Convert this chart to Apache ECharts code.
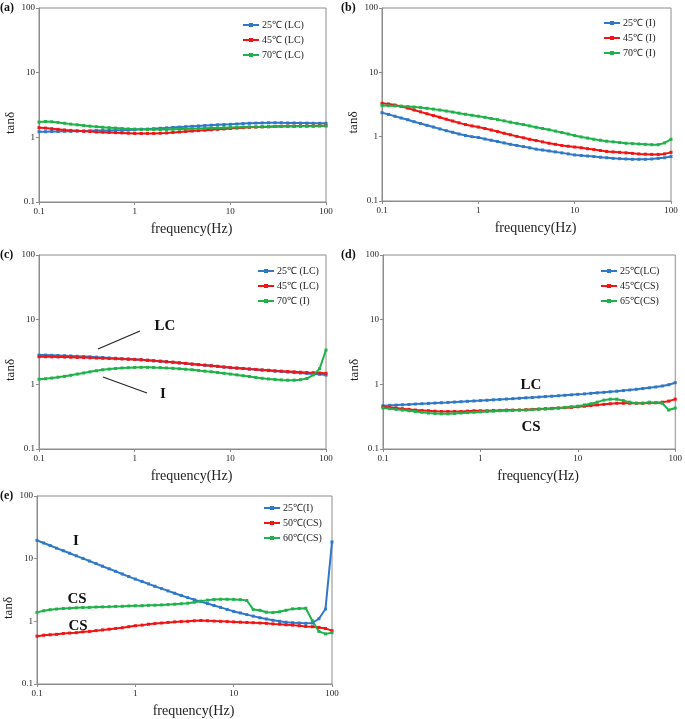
<!DOCTYPE html>
<html><head><meta charset="utf-8">
<script src="https://cdn.jsdelivr.net/npm/echarts@6/dist/echarts.min.js"></script>
<style>html,body{margin:0;padding:0;background:#fff}#c{width:685px;height:719px}</style>
</head><body><div id="c"></div>
<script>
const freq = [0.1,0.117,0.136,0.158,0.185,0.215,0.251,0.293,0.341,0.398,0.464,0.541,0.631,0.736,0.858,
1,1.17,1.36,1.58,1.85,2.15,2.51,2.93,3.41,3.98,4.64,5.41,6.31,7.36,8.58,
10,11.7,13.6,15.8,18.5,21.5,25.1,29.3,34.1,39.8,46.4,54.1,63.1,73.6,85.8,100];
const xTicks = ['0.1','1','10','100'];
const yTicks = ['0.1','1','10','100'];

// (a)
const a25LC = [1.22,1.22,1.23,1.23,1.24,1.24,1.25,1.25,1.26,1.27,1.27,1.28,1.29,1.29,1.30,
1.31,1.33,1.34,1.36,1.38,1.40,1.42,1.44,1.46,1.48,1.50,1.52,1.54,1.56,1.58,
1.59,1.61,1.63,1.65,1.66,1.67,1.68,1.68,1.68,1.67,1.67,1.66,1.66,1.65,1.65,1.65];
const a45LC = [1.41,1.39,1.36,1.33,1.30,1.28,1.26,1.24,1.23,1.21,1.20,1.19,1.18,1.17,1.16,
1.15,1.15,1.15,1.15,1.16,1.17,1.19,1.21,1.23,1.25,1.27,1.29,1.31,1.33,1.35,
1.37,1.39,1.41,1.43,1.44,1.45,1.46,1.47,1.48,1.49,1.49,1.50,1.50,1.50,1.51,1.51];
const a70LC = [1.72,1.76,1.74,1.70,1.65,1.60,1.56,1.52,1.49,1.46,1.43,1.41,1.39,1.37,1.35,
1.34,1.33,1.32,1.32,1.32,1.32,1.33,1.34,1.35,1.36,1.37,1.38,1.39,1.40,1.41,
1.42,1.43,1.44,1.45,1.45,1.46,1.46,1.47,1.47,1.48,1.48,1.48,1.49,1.49,1.50,1.50];
// (b)
const b25I = [2.36,2.22,2.08,1.95,1.83,1.71,1.60,1.50,1.41,1.32,1.24,1.17,1.10,1.04,1.00,
0.97,0.92,0.88,0.84,0.80,0.76,0.73,0.70,0.67,0.64,0.62,0.60,0.58,0.56,0.54,
0.52,0.51,0.50,0.49,0.48,0.47,0.46,0.455,0.45,0.445,0.445,0.445,0.45,0.46,0.47,0.49];
const b45I = [3.30,3.22,3.10,2.95,2.78,2.60,2.43,2.27,2.13,2.00,1.87,1.75,1.64,1.54,1.47,
1.41,1.34,1.27,1.20,1.13,1.07,1.01,0.96,0.91,0.87,0.83,0.79,0.76,0.73,0.71,
0.69,0.67,0.65,0.63,0.61,0.59,0.58,0.57,0.56,0.55,0.54,0.535,0.53,0.53,0.54,0.57];
const b70I = [3.05,3.03,3.01,2.98,2.94,2.89,2.83,2.76,2.68,2.59,2.50,2.41,2.32,2.23,2.15,
2.08,2.00,1.92,1.84,1.76,1.68,1.61,1.54,1.47,1.40,1.34,1.28,1.22,1.16,1.10,
1.04,0.99,0.95,0.91,0.88,0.85,0.83,0.81,0.79,0.78,0.77,0.76,0.75,0.75,0.80,0.91];
// (c)
const c25LC = [2.84,2.83,2.81,2.79,2.77,2.75,2.72,2.69,2.66,2.63,2.60,2.56,2.53,2.49,2.46,
2.43,2.39,2.35,2.31,2.27,2.23,2.19,2.14,2.10,2.05,2.01,1.97,1.93,1.89,1.85,
1.81,1.78,1.75,1.72,1.69,1.66,1.63,1.60,1.58,1.55,1.52,1.50,1.47,1.45,1.43,1.39];
const c45LC = [2.67,2.67,2.66,2.65,2.64,2.63,2.61,2.59,2.57,2.55,2.53,2.51,2.49,2.47,2.45,
2.43,2.40,2.36,2.32,2.28,2.24,2.20,2.15,2.11,2.06,2.02,1.98,1.94,1.90,1.85,
1.82,1.79,1.76,1.73,1.70,1.67,1.65,1.62,1.60,1.58,1.56,1.54,1.52,1.51,1.50,1.48];
const c70I = [1.20,1.22,1.25,1.29,1.33,1.38,1.44,1.50,1.56,1.62,1.68,1.72,1.76,1.79,1.81,
1.82,1.83,1.83,1.82,1.81,1.79,1.77,1.74,1.71,1.68,1.64,1.60,1.56,1.52,1.48,
1.44,1.40,1.36,1.32,1.28,1.24,1.21,1.19,1.17,1.16,1.16,1.18,1.23,1.40,1.75,3.39];
// (d)
const d25LC = [0.467,0.472,0.477,0.483,0.489,0.495,0.501,0.507,0.513,0.519,0.525,0.532,0.539,0.546,0.553,
0.560,0.568,0.576,0.584,0.592,0.600,0.609,0.618,0.627,0.636,0.646,0.656,0.666,0.677,0.688,
0.700,0.712,0.725,0.738,0.752,0.767,0.783,0.800,0.818,0.838,0.860,0.884,0.911,0.942,0.985,1.06];
const d45CS = [0.45,0.44,0.43,0.42,0.41,0.40,0.395,0.39,0.385,0.38,0.38,0.38,0.38,0.385,0.39,
0.39,0.39,0.395,0.395,0.40,0.40,0.40,0.405,0.41,0.415,0.42,0.425,0.43,0.435,0.44,
0.45,0.46,0.47,0.48,0.49,0.50,0.51,0.51,0.51,0.51,0.51,0.515,0.52,0.53,0.55,0.59];
const d65CS = [0.43,0.42,0.41,0.40,0.39,0.38,0.37,0.36,0.355,0.35,0.35,0.355,0.36,0.365,0.37,
0.375,0.38,0.385,0.39,0.39,0.395,0.40,0.40,0.405,0.41,0.415,0.42,0.43,0.44,0.45,
0.46,0.48,0.50,0.53,0.57,0.59,0.59,0.56,0.53,0.51,0.51,0.53,0.52,0.51,0.40,0.43];
// (e)
const e25I = [19.6,17.8,16.2,14.7,13.4,12.2,11.1,10.1,9.17,8.34,7.58,6.89,6.27,5.70,5.18,
4.72,4.33,3.96,3.63,3.33,3.06,2.81,2.59,2.39,2.21,2.06,1.92,1.79,1.67,1.55,
1.44,1.36,1.28,1.21,1.14,1.09,1.04,1.00,0.97,0.95,0.94,0.93,0.94,1.10,1.57,18.5];
const e50CS = [0.58,0.60,0.61,0.62,0.64,0.65,0.66,0.68,0.69,0.71,0.73,0.75,0.77,0.79,0.82,
0.85,0.87,0.90,0.92,0.94,0.96,0.98,0.99,1.00,1.02,1.03,1.02,1.01,1.00,0.99,
0.98,0.97,0.96,0.95,0.94,0.93,0.91,0.90,0.88,0.87,0.85,0.83,0.82,0.80,0.77,0.71];
const e60CS = [1.39,1.47,1.53,1.57,1.60,1.62,1.64,1.66,1.67,1.69,1.70,1.71,1.73,1.74,1.76,
1.77,1.78,1.80,1.81,1.83,1.85,1.88,1.91,1.95,2.02,2.10,2.18,2.23,2.25,2.25,
2.24,2.22,2.15,1.55,1.50,1.40,1.38,1.42,1.50,1.58,1.60,1.62,1.02,0.69,0.63,0.66];

const BLUE='#2f78c8', RED='#f01414', GREEN='#1fb24a';
const SERIF='"Liberation Serif","Times New Roman",serif';

const panels = [
  {letter:'(a)', grid:{left:39,top:8,width:287,height:194}, legend:{left:242,top:20},
   series:[['25℃ (LC)',a25LC,BLUE],['45℃ (LC)',a45LC,RED],['70℃ (LC)',a70LC,GREEN]]},
  {letter:'(b)', grid:{left:382,top:8,width:289,height:193}, legend:{left:603,top:18},
   series:[['25℃ (I)',b25I,BLUE],['45℃ (I)',b45I,RED],['70℃ (I)',b70I,GREEN]]},
  {letter:'(c)', grid:{left:39,top:255,width:287,height:194}, legend:{left:257,top:266},
   series:[['25℃ (LC)',c25LC,BLUE],['45℃ (LC)',c45LC,RED],['70℃ (I)',c70I,GREEN]]},
  {letter:'(d)', grid:{left:383,top:255,width:295,height:194}, legend:{left:600,top:266},
   series:[['25℃(LC)',d25LC,BLUE],['45℃(CS)',d45CS,RED],['65℃(CS)',d65CS,GREEN]]},
  {letter:'(e)', grid:{left:37,top:496,width:295,height:194}, legend:{left:263,top:503},
   series:[['25℃(I)',e25I,BLUE],['50℃(CS)',e50CS,RED],['60℃(CS)',e60CS,GREEN]]}
];

const grids=[], xAxes=[], yAxes=[], series=[], legends=[], graphics=[];
const axisCommon = {
  type:'log', logBase:10, min:0.1, max:100,
  axisLine:{show:true, lineStyle:{color:'#8c8c8c', width:1}},
  axisTick:{show:true, length:3, lineStyle:{color:'#8c8c8c'}},
  splitLine:{show:false}, minorTick:{show:false},
  axisLabel:{fontFamily:SERIF, fontSize:9, color:'#222',
    formatter:v=>{const s=String(+v.toPrecision(3)); return [...xTicks,...yTicks].includes(s)?s:'';}}
};
panels.forEach((p,k)=>{
  grids.push(Object.assign({show:true, borderColor:'#8c8c8c', borderWidth:1, backgroundColor:'#fff'}, p.grid));
  xAxes.push(Object.assign({}, axisCommon, {gridIndex:k, name:'frequency(Hz)', nameLocation:'middle', nameGap:20,
    nameTextStyle:{fontFamily:SERIF, fontSize:14, color:'#222', padding:[0,0,0,18]},
    axisLabel:Object.assign({}, axisCommon.axisLabel, {margin:5})}));
  yAxes.push(Object.assign({}, axisCommon, {gridIndex:k, name:'tanδ', nameLocation:'middle', nameGap:22,
    nameTextStyle:{fontFamily:SERIF, fontSize:13, color:'#222', padding:[0,36,0,0]},
    axisLabel:Object.assign({}, axisCommon.axisLabel, {margin:4})}));
  p.series.forEach(([name,vals,color])=>{
    series.push({type:'line', name, xAxisIndex:k, yAxisIndex:k,
      data:freq.map((f,i)=>[f,vals[i]]),
      symbol:'rect', symbolSize:3, showSymbol:true,
      lineStyle:{color, width:2}, itemStyle:{color}, animation:false});
  });
  legends.push({data:p.series.map(s=>s[0]), orient:'vertical', left:p.legend.left, top:p.legend.top,
    itemWidth:16, itemHeight:5, itemGap:5, padding:0,
    textStyle:{fontFamily:SERIF, fontSize:10, color:'#222', padding:[0,0,0,-2]}});
  graphics.push({type:'text', left:(p.grid.left>300?341:0), top:p.grid.top-6,
    style:{text:p.letter, font:'bold 12px '+SERIF, fill:'#111'}});
});

const annot = (x,y,t,size)=>({type:'text', x, y, style:{text:t, font:'bold '+(size||15)+'px '+SERIF, fill:'#111', textAlign:'center', textVerticalAlign:'middle'}});
graphics.push(
  annot(165,326,'LC'), annot(163,394,'I'),
  {type:'line', shape:{x1:98,y1:349,x2:140,y2:331}, style:{stroke:'#222', lineWidth:1.2}},
  {type:'line', shape:{x1:103,y1:377,x2:147,y2:393}, style:{stroke:'#222', lineWidth:1.2}},
  annot(531,385,'LC'), annot(531,427,'CS'),
  annot(76,541,'I'), annot(77,599,'CS'), annot(78,626,'CS')
);

const chart = echarts.init(document.getElementById('c'), null, {renderer:'canvas'});
chart.setOption({animation:false, backgroundColor:'#fff', grid:grids, xAxis:xAxes, yAxis:yAxes,
  legend:legends, series, graphic:graphics});
</script></body></html>
